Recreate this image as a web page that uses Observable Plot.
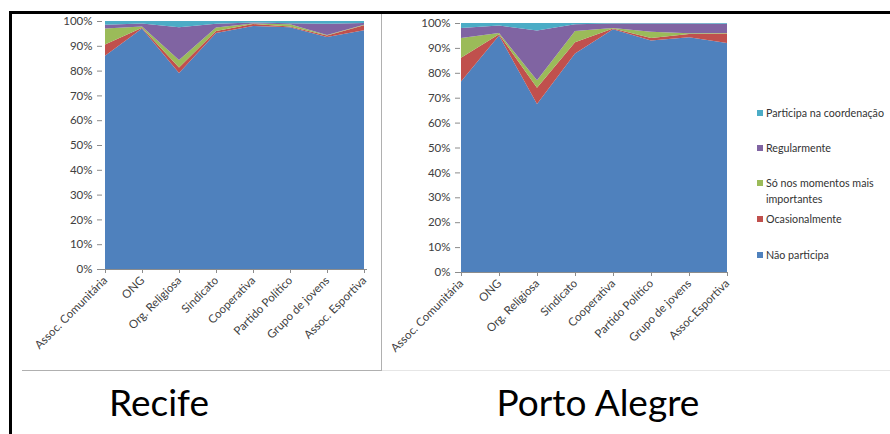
<!DOCTYPE html>
<html>
<head>
<meta charset="utf-8">
<script src="https://cdn.jsdelivr.net/npm/d3@7"></script>
<script src="https://cdn.jsdelivr.net/npm/@observablehq/plot@0.6"></script>
<style>
  body { margin: 0; background: #fff; font-family: Lato, "Open Sans", sans-serif; }
  #page { position: relative; width: 890px; height: 434px; overflow: hidden; background: #fff; }
  .abs { position: absolute; }
  .chart svg { overflow: visible; }
  .legend-item { position: absolute; font-size: 10.7px; color: #333; line-height: 16px; white-space: nowrap; }
  .legend-item .sw { position: absolute; left: 0; top: 5px; width: 6px; height: 6px; }
  .legend-item .tx { position: absolute; left: 9px; top: 0; }
  .city { position: absolute; font-size: 37px; color: #000; line-height: 40px; text-align: center; }
</style>
</head>
<body>
<div id="page"></div>
<script>
// Categories on the x axis (same for both cities)
const categories = [
  "Assoc. Comunitária", "ONG", "Org. Religiosa", "Sindicato",
  "Cooperativa", "Partido Político", "Grupo de jovens", "Assoc. Esportiva"
];
const portoCategories = [
  "Assoc. Comunitária", "ONG", "Org. Religiosa", "Sindicato",
  "Cooperativa", "Partido Político", "Grupo de jovens", "Assoc.Esportiva"
];

// Participation levels, stacked bottom to top
const seriesNames = [
  "Não participa", "Ocasionalmente", "Só nos momentos mais importantes",
  "Regularmente", "Participa na coordenação"
];
const seriesColors = ["#4F81BD", "#C0504D", "#9BBB59", "#8064A2", "#4BACC6"];

// Recife (% of respondents)
const recifeNaoParticipa  = [86.0, 97.0, 79.0, 95.2, 98.0, 97.5, 93.5, 96.3];
const recifeOcasionalmente = [4.5, 0.3, 2.3, 0.8, 0.8, 0.3, 0.7, 2.0];
const recifeMomentos      = [6.5, 0.5, 3.0, 1.4, 0.2, 0.9, 0.2, 0.2];
const recifeRegularmente  = [1.5, 1.2, 13.2, 1.5, 0.4, 0.4, 4.5, 0.7];
const recifeCoordenacao   = [1.5, 1.0, 2.5, 1.1, 0.6, 0.9, 1.1, 0.8];

// Porto Alegre (% of respondents)
const portoNaoParticipa   = [76.5, 95.0, 67.5, 87.8, 97.5, 93.0, 94.3, 92.0];
const portoOcasionalmente = [9.5, 0.5, 6.5, 4.5, 0.3, 1.0, 1.3, 3.8];
const portoMomentos       = [8.0, 0.5, 3.0, 4.5, 0.2, 2.5, 0.3, 0.2];
const portoRegularmente   = [4.0, 3.0, 20.0, 2.7, 1.8, 3.3, 3.9, 3.7];
const portoCoordenacao    = [2.0, 1.0, 3.0, 0.5, 0.2, 0.2, 0.2, 0.3];

const yTickValues = [0, 10, 20, 30, 40, 50, 60, 70, 80, 90, 100];

function rowsFor(cats, seriesValues) {
  const rows = [];
  seriesNames.forEach((s, i) => {
    cats.forEach((c, j) => rows.push({ cat: c, serie: s, value: seriesValues[i][j] }));
  });
  return rows;
}

function stackedChart(cats, seriesValues, o) {
  const rows = rowsFor(cats, seriesValues);
  return Plot.plot({
    width: o.width,
    height: o.height,
    marginLeft: o.ml,
    marginRight: o.mr,
    marginTop: o.mt,
    marginBottom: o.mb,
    style: { fontFamily: "Lato, 'Open Sans', sans-serif", fontSize: "11.5px", color: "#404040", background: "transparent", overflow: "visible" },
    x: { type: "point", domain: cats, padding: 0, label: null },
    y: { domain: [0, 1], label: null },
    color: { domain: seriesNames, range: seriesColors },
    marks: [
      Plot.areaY(rows, Plot.stackY({
        x: "cat", y: "value", z: "serie", fill: "serie",
        order: seriesNames, offset: "normalize"
      })),
      Plot.ruleY([0], { stroke: "#8c8c8c", strokeWidth: 1 }),
      Plot.axisY({
        ticks: yTickValues.map(v => v / 100),
        tickFormat: d => Math.round(d * 100) + "%",
        tickSize: 5, tickPadding: 5, stroke: "#8c8c8c", label: null
      }),
      Plot.axisX({
        tickSize: 4, tickPadding: 5, tickRotate: -45, stroke: "#8c8c8c", label: null
      })
    ]
  });
}

const page = document.getElementById("page");

function place(el, left, top) {
  const wrap = document.createElement("div");
  wrap.className = "abs chart";
  wrap.style.left = left + "px";
  wrap.style.top = top + "px";
  wrap.appendChild(el);
  page.appendChild(wrap);
}

// Recife chart
place(stackedChart(categories,
  [recifeNaoParticipa, recifeOcasionalmente, recifeMomentos, recifeRegularmente, recifeCoordenacao],
  { width: 381, height: 372, ml: 102, mr: 14, mt: 21, mb: 103 }), 0, 0);

// Porto Alegre chart
place(stackedChart(portoCategories,
  [portoNaoParticipa, portoOcasionalmente, portoMomentos, portoRegularmente, portoCoordenacao],
  { width: 360, height: 372, ml: 79, mr: 14, mt: 23, mb: 100 }), 381, 0);

// Legend (top to bottom, reversed stacking order)
const legendTops = [105, 140, 175, 211, 247];
const legendLabels = [
  "Participa na coordenação", "Regularmente", "Só nos momentos  mais<br>importantes",
  "Ocasionalmente", "Não participa"
];
legendLabels.forEach((lab, i) => {
  const color = seriesColors[seriesColors.length - 1 - i];
  const item = document.createElement("div");
  item.className = "legend-item";
  item.style.left = "757px";
  item.style.top = legendTops[i] + "px";
  item.innerHTML = `<span class="sw" style="background:${color}"></span><span class="tx">${lab}</span>`;
  page.appendChild(item);
});

// City titles
[["Recife", 159], ["Porto Alegre", 598]].forEach(([t, cx]) => {
  const d = document.createElement("div");
  d.className = "city";
  d.textContent = t;
  d.style.left = (cx - 150) + "px";
  d.style.width = "300px";
  d.style.top = "382px";
  page.appendChild(d);
});

// Frame lines around the panels
function line(left, top, w, h, color) {
  const d = document.createElement("div");
  d.className = "abs";
  Object.assign(d.style, { left: left + "px", top: top + "px", width: w + "px", height: h + "px", background: color });
  page.appendChild(d);
}
line(9, 11, 881, 3, "#000");
line(9, 11, 3, 423, "#000");
line(381, 14, 1, 357, "#b0b0b0");
line(22, 370, 359, 1, "#b0b0b0");
line(382, 370, 508, 1, "#e6e6e6");
</script>
</body>
</html>
